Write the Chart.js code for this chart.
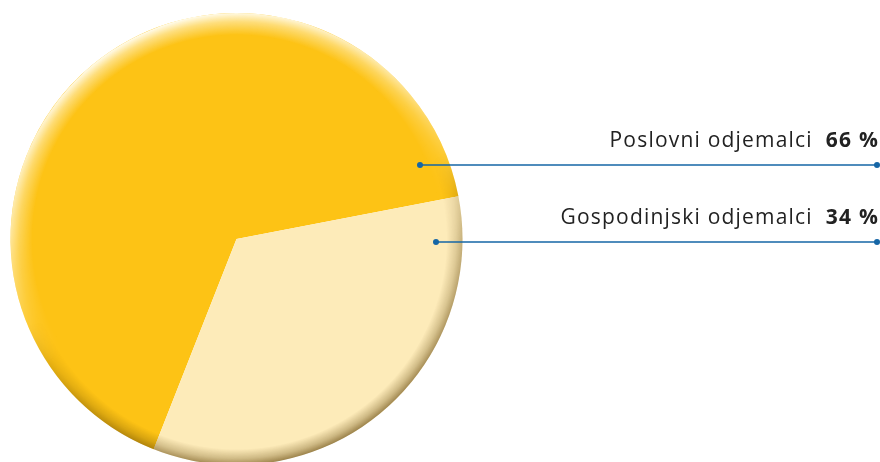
<!DOCTYPE html>
<html>
<head>
<meta charset="utf-8">
<script src="https://cdn.jsdelivr.net/npm/chart.js@4/dist/chart.umd.min.js"></script>
<style>
  html, body { margin: 0; padding: 0; background: #fff; }
  #wrap { width: 880px; height: 462px; position: relative; }
</style>
</head>
<body>
<div id="wrap"><canvas id="pie-chart"></canvas></div>
<script>
/* =================================
  data
==================================== */
const categories = ['Poslovni odjemalci', 'Gospodinjski odjemalci'];
const shares = [66, 34];
const sliceColors = ['#fdc315', '#fdebb9'];

/* =================================
  labels with leader lines
==================================== */
// y of each leader line and x of the dot inside the slice
const leaderY = [165, 242];
const leaderInnerX = [420, 436];

const leaderLabels = {
    id: 'leaderLabels',
    afterDraw(chart) {
        const ctx = chart.ctx;
        const right = 877;
        ctx.save();
        for (let i = 0; i < categories.length; i++) {
            const y = leaderY[i];
            ctx.strokeStyle = '#1566a6';
            ctx.fillStyle = '#1566a6';
            ctx.lineWidth = 1.3;
            ctx.beginPath();
            ctx.moveTo(leaderInnerX[i], y);
            ctx.lineTo(right, y);
            ctx.stroke();
            [leaderInnerX[i], right].forEach(x => {
                ctx.beginPath();
                ctx.arc(x, y, 3, 0, Math.PI * 2);
                ctx.fill();
            });

            ctx.textBaseline = 'alphabetic';
            ctx.textAlign = 'right';
            ctx.fillStyle = '#222';
            ctx.letterSpacing = '1.2px';
            ctx.font = 'bold 21px "Open Sans"';
            const value = shares[i] + ' %';
            ctx.fillText(value, right + 2, y - 18);
            const w = ctx.measureText(value).width;
            ctx.font = '21px "Open Sans"';
            ctx.fillText(categories[i], right + 2 - w - 13, y - 18);
        }
        ctx.restore();
    }
};

/* =================================
  3d rim: light from the top left, shadow towards the bottom
==================================== */
const rimShade = {
    id: 'rimShade',
    afterDatasetsDraw(chart) {
        const arc = chart.getDatasetMeta(0).data[0];
        if (!arc) return;
        const cx = arc.x, cy = arc.y, r = arc.outerRadius;
        const ctx = chart.ctx;
        const ax = 0.383 * r, ay = 0.924 * r;

        const makeLayer = (color, band) => {
            const off = document.createElement('canvas');
            off.width = chart.canvas.width;
            off.height = chart.canvas.height;
            const o = off.getContext('2d');
            const rg = o.createRadialGradient(cx, cy, r - band, cx, cy, r);
            rg.addColorStop(0, color + '0)');
            rg.addColorStop(0.6, color + '0.5)');
            rg.addColorStop(1, color + '1)');
            o.fillStyle = rg;
            o.beginPath();
            o.arc(cx, cy, r, 0, Math.PI * 2);
            o.fill();
            return o;
        };

        // highlight
        const hi = makeLayer('rgba(255,255,250,', 22);
        hi.globalCompositeOperation = 'destination-in';
        let lg = hi.createLinearGradient(cx - ax, cy - ay, cx + ax, cy + ay);
        lg.addColorStop(0, 'rgba(0,0,0,0.95)');
        lg.addColorStop(0.3, 'rgba(0,0,0,0.6)');
        lg.addColorStop(0.5, 'rgba(0,0,0,0.15)');
        lg.addColorStop(0.6, 'rgba(0,0,0,0)');
        lg.addColorStop(1, 'rgba(0,0,0,0)');
        hi.fillStyle = lg;
        hi.fillRect(0, 0, hi.canvas.width, hi.canvas.height);

        // shadow
        const sh = makeLayer('rgba(90,60,0,', 16);
        sh.globalCompositeOperation = 'destination-in';
        lg = sh.createLinearGradient(cx - ax, cy - ay, cx + ax, cy + ay);
        lg.addColorStop(0, 'rgba(0,0,0,0)');
        lg.addColorStop(0.5, 'rgba(0,0,0,0)');
        lg.addColorStop(0.7, 'rgba(0,0,0,0.35)');
        lg.addColorStop(1, 'rgba(0,0,0,0.6)');
        sh.fillStyle = lg;
        sh.fillRect(0, 0, sh.canvas.width, sh.canvas.height);

        ctx.save();
        ctx.setTransform(1, 0, 0, 1, 0, 0);
        ctx.drawImage(sh.canvas, 0, 0);
        ctx.drawImage(hi.canvas, 0, 0);
        ctx.restore();
    }
};

/* =================================
  pie chart
==================================== */
let pieData = {
    labels: categories,
    datasets: [{
        data: shares,
        backgroundColor: sliceColors,
        borderWidth: 0
    }]
};

let pieOptions = {
    responsive: true,
    maintainAspectRatio: false,
    animation: false,
    rotation: 201.5,
    radius: 226,
    layout: {
        padding: { left: 10, top: 16, right: 417, bottom: 0 }
    },
    plugins: {
        legend: { display: false },
        tooltip: { enabled: false }
    }
};

let pieChart = new Chart(document.getElementById('pie-chart'), {
    type: 'pie',
    data: pieData,
    options: pieOptions,
    plugins: [rimShade, leaderLabels]
});
</script>
</body>
</html>
